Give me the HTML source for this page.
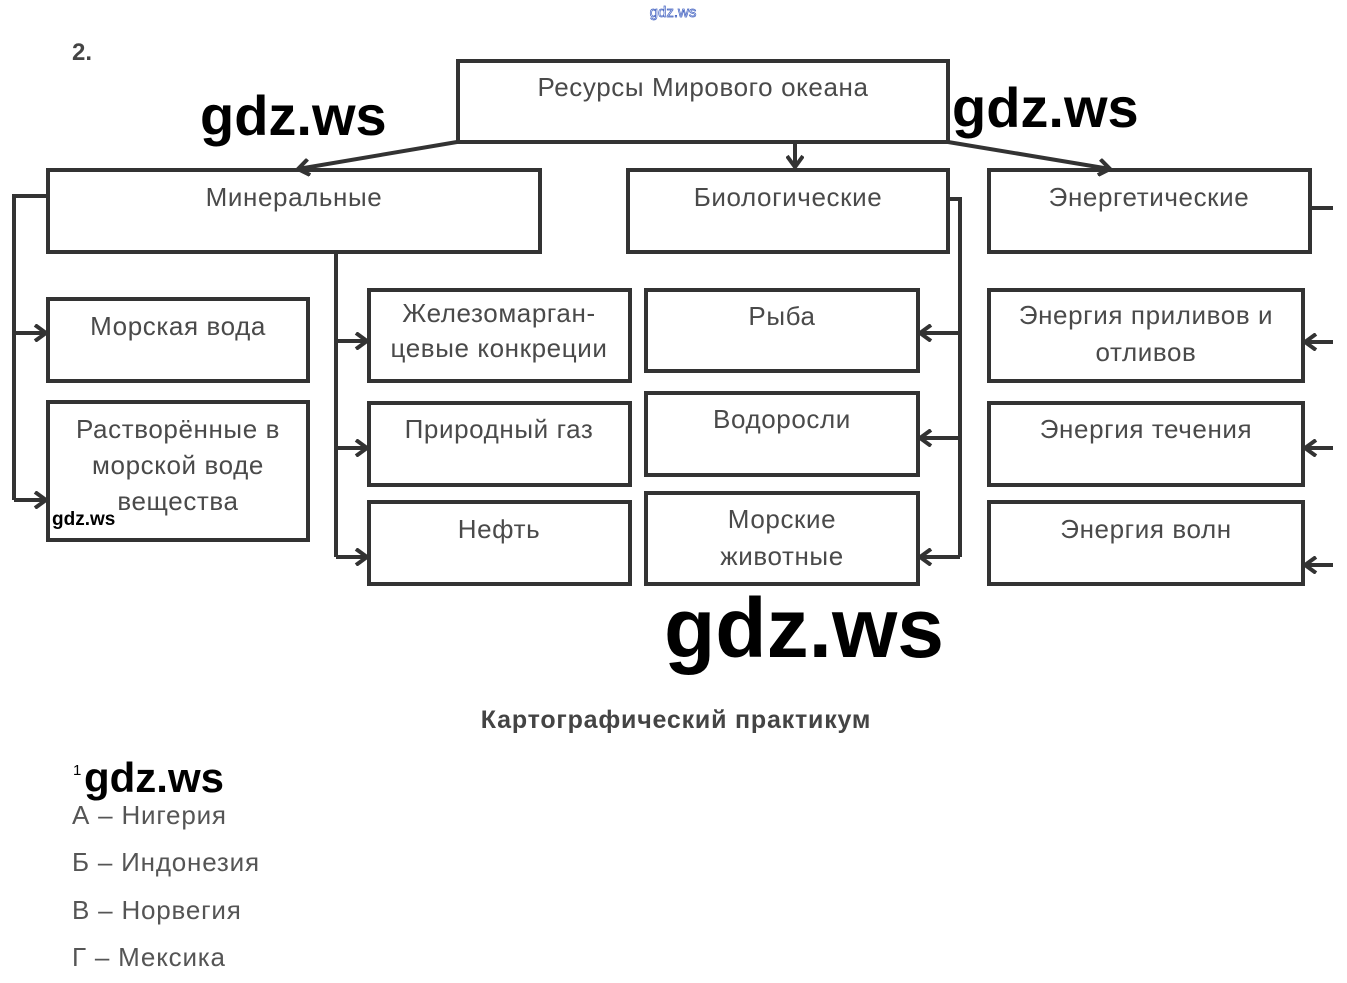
<!DOCTYPE html>
<html><head><meta charset="utf-8"><style>
body{margin:0;background:#fff;}
svg{display:block}
.t{font-family:"Liberation Sans",sans-serif;font-size:26px;letter-spacing:0.6px;fill:#4a4a4a;text-anchor:middle}
.w{font-family:"Liberation Sans",sans-serif;fill:#000;font-weight:bold}
</style></head><body>
<svg width="1347" height="983" viewBox="0 0 1347 983" xmlns="http://www.w3.org/2000/svg">
<defs>
<marker id="b" markerWidth="16" markerHeight="18" refX="14" refY="9" orient="auto" markerUnits="userSpaceOnUse">
<path d="M3,1 L14,9 L3,17" fill="none" stroke="#333" stroke-width="4"/></marker>
</defs>
<text x="673" y="17" font-family="Liberation Sans" font-size="15" fill="none" stroke="#4060c0" stroke-width="0.7" text-anchor="middle">gdz.ws</text>
<text x="72" y="60" font-family="Liberation Sans" font-size="24" font-weight="bold" fill="#444">2.</text>
<g fill="none" stroke="#333" stroke-width="4">
<rect x="458" y="61" width="490" height="81"/>
<rect x="48" y="170" width="492" height="82"/>
<rect x="628" y="170" width="320" height="82"/>
<rect x="989" y="170" width="321" height="82"/>
<rect x="48" y="299" width="260" height="82"/>
<rect x="48" y="402" width="260" height="138"/>
<rect x="369" y="290" width="261" height="91"/>
<rect x="369" y="403" width="261" height="82"/>
<rect x="369" y="502" width="261" height="82"/>
<rect x="646" y="290" width="272" height="81"/>
<rect x="646" y="393" width="272" height="82"/>
<rect x="646" y="493" width="272" height="91"/>
<rect x="989" y="290" width="314" height="91"/>
<rect x="989" y="403" width="314" height="82"/>
<rect x="989" y="502" width="314" height="82"/>
</g>
<g fill="none" stroke="#333" stroke-width="4">
<line x1="457" y1="142" x2="298" y2="169" marker-end="url(#b)"/>
<line x1="795" y1="142" x2="795" y2="167" marker-end="url(#b)"/>
<line x1="948" y1="142" x2="1110" y2="169" marker-end="url(#b)"/>
<polyline points="46,196 14,196 14,500"/>
<line x1="14" y1="333" x2="46" y2="333" marker-end="url(#b)"/>
<line x1="14" y1="500" x2="46" y2="500" marker-end="url(#b)"/>
<polyline points="336,252 336,557"/>
<line x1="336" y1="341" x2="367" y2="341" marker-end="url(#b)"/>
<line x1="336" y1="448" x2="367" y2="448" marker-end="url(#b)"/>
<line x1="336" y1="557" x2="367" y2="557" marker-end="url(#b)"/>
<polyline points="950,199 960,199 960,557"/>
<line x1="960" y1="333" x2="920" y2="333" marker-end="url(#b)"/>
<line x1="960" y1="438" x2="920" y2="438" marker-end="url(#b)"/>
<line x1="960" y1="557" x2="920" y2="557" marker-end="url(#b)"/>
<line x1="1312" y1="208" x2="1333" y2="208"/>
<line x1="1333" y1="342" x2="1305" y2="342" marker-end="url(#b)"/>
<line x1="1333" y1="448" x2="1305" y2="448" marker-end="url(#b)"/>
<line x1="1333" y1="565" x2="1305" y2="565" marker-end="url(#b)"/>
</g>
<text class="t" x="703" y="96">Ресурсы Мирового океана</text>
<text class="t" x="294" y="206">Минеральные</text>
<text class="t" x="788" y="206">Биологические</text>
<text class="t" x="1149" y="206">Энергетические</text>
<text class="t" x="178" y="335">Морская вода</text>
<text class="t" x="178" y="438">Растворённые в</text>
<text class="t" x="178" y="474">морской воде</text>
<text class="t" x="178" y="510">вещества</text>
<text class="t" x="499" y="322">Железомарган-</text>
<text class="t" x="499" y="357">цевые конкреции</text>
<text class="t" x="499" y="438">Природный газ</text>
<text class="t" x="499" y="538">Нефть</text>
<text class="t" x="782" y="325">Рыба</text>
<text class="t" x="782" y="428">Водоросли</text>
<text class="t" x="782" y="528">Морские</text>
<text class="t" x="782" y="565">животные</text>
<text class="t" x="1146" y="324">Энергия приливов и</text>
<text class="t" x="1146" y="361">отливов</text>
<text class="t" x="1146" y="438">Энергия течения</text>
<text class="t" x="1146" y="538">Энергия волн</text>
<text class="w" x="200" y="135" font-size="56">gdz.ws</text>
<text class="w" x="952" y="127" font-size="56">gdz.ws</text>
<text class="w" x="664" y="657" font-size="84">gdz.ws</text>
<text class="w" x="52" y="525" font-size="19">gdz.ws</text>
<text x="676" y="728" font-family="Liberation Sans" font-size="25" font-weight="bold" letter-spacing="0.8" fill="#444" text-anchor="middle">Картографический практикум</text>
<text x="73" y="775" font-family="Liberation Sans" font-size="15" fill="#000">1</text>
<text class="w" x="84" y="792" font-size="42">gdz.ws</text>
<g font-family="Liberation Sans" font-size="26" letter-spacing="0.8" fill="#555">
<text x="72" y="824">А – Нигерия</text>
<text x="72" y="871">Б – Индонезия</text>
<text x="72" y="919">В – Норвегия</text>
<text x="72" y="966">Г – Мексика</text>
</g>
</svg>
</body></html>
